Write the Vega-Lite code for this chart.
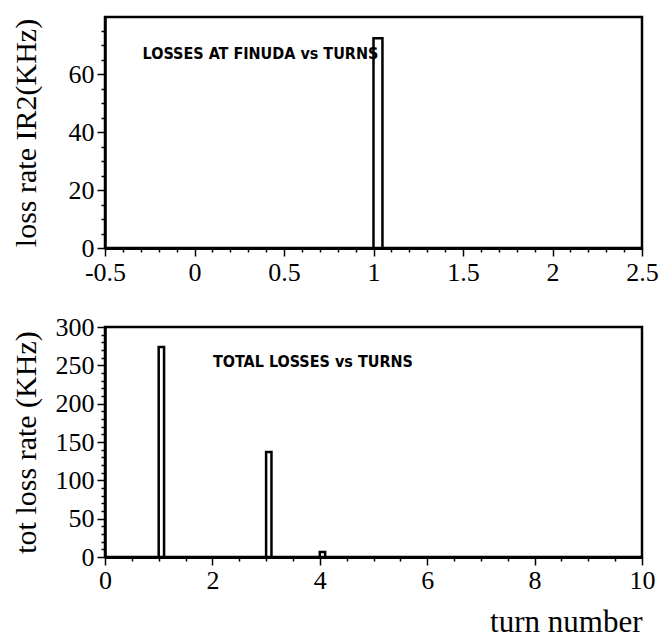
{
  "$schema": "https://vega.github.io/schema/vega-lite/v6.json",
  "padding": {"left": 9, "top": 15, "right": 0, "bottom": 0},
  "background": "white",
  "config": {
    "view": {"stroke": "black", "strokeWidth": 2.5},
    "axis": {
      "labelFont": "Liberation Serif", "titleFont": "Liberation Serif",
      "labelColor": "black", "titleColor": "black", "tickColor": "black", "domainColor": "black",
      "labelFontSize": 26, "titleFontSize": 30, "titleFontWeight": "normal",
      "grid": false, "tickWidth": 1.5, "labelFlush": false, "labelOverlap": false
    }
  },
  "datasets": {
    "top_bars": [{"lo": 1.0, "hi": 1.05, "rate": 72.4}],
    "top_note": [{"label": "LOSSES AT FINUDA vs TURNS", "x": -0.29, "y": 67}],
    "bot_bars": [
      {"lo": 1.0, "hi": 1.1, "rate": 274},
      {"lo": 3.0, "hi": 3.1, "rate": 137},
      {"lo": 4.0, "hi": 4.1, "rate": 6.5}
    ],
    "bot_note": [{"label": "TOTAL LOSSES vs TURNS", "x": 2.01, "y": 255}]
  },
  "spacing": 79,
  "bounds": "flush",
  "vconcat": [
    {
      "width": 537, "height": 231,
      "layer": [
        {
          "data": {"name": "top_bars"},
          "mark": {"type": "rect", "fill": "white", "stroke": "black", "strokeWidth": 2.5},
          "encoding": {
            "x": {"field": "lo", "type": "quantitative",
              "scale": {"domain": [-0.5, 2.5], "nice": false, "zero": false},
              "axis": {"orient": "bottom", "values": [-0.5, 0, 0.5, 1, 1.5, 2, 2.5], "labelExpr": "toString(datum.value)", "tickSize": 8, "labelPadding": 3, "title": null, "domainWidth": 3}},
            "x2": {"field": "hi"},
            "y": {"field": "rate", "type": "quantitative",
              "scale": {"domain": [0, 79.7], "nice": false},
              "axis": {"orient": "left", "values": [0, 20, 40, 60], "tickSize": 8, "labelPadding": 3, "title": "loss rate IR2(KHz)", "titlePadding": 27, "domainWidth": 2.5}},
            "y2": {"datum": 0}
          }
        },
        {
          "data": {"name": "top_note"},
          "mark": {"type": "text", "align": "left", "baseline": "middle", "font": "DejaVu Sans Condensed, Liberation Sans Narrow, Liberation Sans, sans-serif", "fontWeight": "bold", "fontSize": 16, "color": "black"},
          "encoding": {
            "x": {"field": "x", "type": "quantitative",
              "axis": {"orient": "bottom", "values": [-0.4,-0.3,-0.2,-0.1,0.1,0.2,0.3,0.4,0.6,0.7,0.8,0.9,1.1,1.2,1.3,1.4,1.6,1.7,1.8,1.9,2.1,2.2,2.3,2.4], "labels": false, "tickSize": 4, "domain": false, "title": null}},
            "y": {"field": "y", "type": "quantitative",
              "axis": {"orient": "left", "values": [5,10,15,25,30,35,45,50,55,65,70,75], "labels": false, "tickSize": 4, "domain": false, "title": null}},
            "text": {"field": "label"}
          }
        }
      ],
      "resolve": {"axis": {"x": "independent", "y": "independent"}}
    },
    {
      "width": 537, "height": 230,
      "layer": [
        {
          "data": {"name": "bot_bars"},
          "mark": {"type": "rect", "fill": "white", "stroke": "black", "strokeWidth": 2.5},
          "encoding": {
            "x": {"field": "lo", "type": "quantitative",
              "scale": {"domain": [0, 10], "nice": false, "zero": false},
              "axis": {"orient": "bottom", "values": [0, 2, 4, 6, 8, 10], "labelExpr": "toString(datum.value)", "tickSize": 8, "labelPadding": 2, "title": "turn number", "titleAnchor": "end", "titleFontSize": 31, "titlePadding": 14, "domainWidth": 3}},
            "x2": {"field": "hi"},
            "y": {"field": "rate", "type": "quantitative",
              "scale": {"domain": [0, 300], "nice": false},
              "axis": {"orient": "left", "values": [0, 50, 100, 150, 200, 250, 300], "tickSize": 8, "labelPadding": 3, "title": "tot loss rate (KHz)", "titlePadding": 14, "domainWidth": 2.5}},
            "y2": {"datum": 0}
          }
        },
        {
          "data": {"name": "bot_note"},
          "mark": {"type": "text", "align": "left", "baseline": "middle", "font": "DejaVu Sans Condensed, Liberation Sans Narrow, Liberation Sans, sans-serif", "fontWeight": "bold", "fontSize": 16, "color": "black"},
          "encoding": {
            "x": {"field": "x", "type": "quantitative",
              "axis": {"orient": "bottom", "values": [0.5,1,1.5,2.5,3,3.5,4.5,5,5.5,6.5,7,7.5,8.5,9,9.5], "labels": false, "tickSize": 4, "domain": false, "title": null}},
            "y": {"field": "y", "type": "quantitative",
              "axis": {"orient": "left", "values": [10,20,30,40,60,70,80,90,110,120,130,140,160,170,180,190,210,220,230,240,260,270,280,290], "labels": false, "tickSize": 4, "domain": false, "title": null}},
            "text": {"field": "label"}
          }
        }
      ],
      "resolve": {"axis": {"x": "independent", "y": "independent"}}
    }
  ]
}
